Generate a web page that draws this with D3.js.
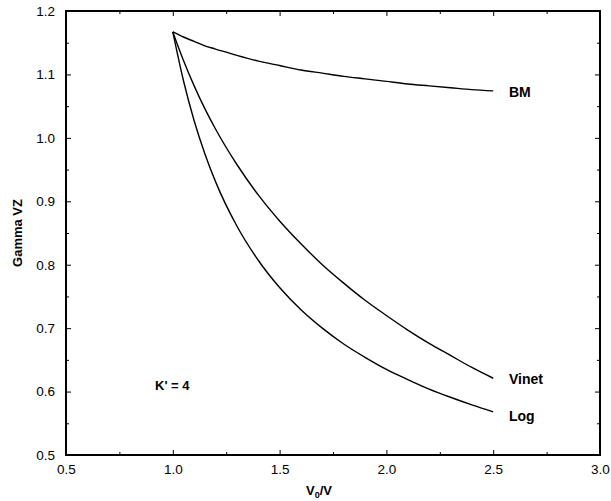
<!DOCTYPE html>
<html>
<head>
<meta charset="utf-8">
<script src="https://cdn.jsdelivr.net/npm/d3@7"></script>
<style>
  body { margin: 0; background: #fff; }
  svg text { font-family: "Liberation Sans", Arial, sans-serif; fill: #000; }
</style>
</head>
<body>
<div id="chart"></div>
<script>
// Values
const compression = [1.0, 1.05, 1.1, 1.15, 1.2, 1.3, 1.4, 1.5, 1.6, 1.7, 1.8, 1.9, 2.0, 2.1, 2.2, 2.3, 2.4, 2.5];
const gammaBM    = [1.167, 1.159, 1.152, 1.145, 1.140, 1.130, 1.121, 1.114, 1.107, 1.102, 1.097, 1.093, 1.089, 1.085, 1.082, 1.079, 1.076, 1.074];
const gammaVinet = [1.167, 1.122, 1.082, 1.046, 1.014, 0.958, 0.910, 0.869, 0.833, 0.800, 0.771, 0.744, 0.720, 0.697, 0.676, 0.657, 0.638, 0.621];
const gammaLog   = [1.167, 1.090, 1.027, 0.975, 0.931, 0.861, 0.807, 0.764, 0.729, 0.700, 0.675, 0.654, 0.635, 0.619, 0.604, 0.591, 0.579, 0.568];
const seriesNames = ["BM", "Vinet", "Log"];
const xTicks = [0.5, 1.0, 1.5, 2.0, 2.5, 3.0];
const yTicks = [0.5, 0.6, 0.7, 0.8, 0.9, 1.0, 1.1, 1.2];

const svgWidth = 611;
const svgHeight = 501;
const margin = { top: 11, right: 11, bottom: 46, left: 66 };
const width = svgWidth - margin.left - margin.right;
const height = svgHeight - margin.top - margin.bottom;

const svg = d3.select("#chart")
  .append("svg")
  .attr("width", svgWidth)
  .attr("height", svgHeight);

const g = svg.append("g")
  .attr("transform", `translate(${margin.left}, ${margin.top})`);

const x = d3.scaleLinear().domain([0.5, 3.0]).range([0, width]);
const y = d3.scaleLinear().domain([0.5, 1.2]).range([height, 0]);

// minor ticks halfway between major ones
const xMinor = d3.range(0.75, 3.0, 0.5);
const yMinor = d3.range(0.55, 1.2, 0.1);

// inward ticks on all four sides
function tickAxis(axisFn, scale, majors, minors, transform, labels) {
  const major = g.append("g").attr("transform", transform)
    .call(axisFn(scale).tickValues(majors).tickSize(-5)
      .tickFormat(labels ? d3.format(".1f") : ""));
  const minor = g.append("g").attr("transform", transform)
    .call(axisFn(scale).tickValues(minors).tickSize(-3).tickFormat(""));
  [major, minor].forEach(a => {
    a.select(".domain").remove();
    a.selectAll("line").attr("stroke", "#000").attr("stroke-width", 1);
  });
  major.selectAll("text").attr("font-size", 13.5);
  return major;
}

const bottom = tickAxis(d3.axisBottom, x, xTicks, xMinor, `translate(0, ${height})`, true);
bottom.selectAll("text").attr("dy", "0").attr("y", 19);
tickAxis(d3.axisTop, x, xTicks, xMinor, "translate(0, 0)", false);
const left = tickAxis(d3.axisLeft, y, yTicks, yMinor, "translate(0, 0)", true);
left.selectAll("text").attr("x", -11);
tickAxis(d3.axisRight, y, yTicks, yMinor, `translate(${width}, 0)`, false);

// frame
g.append("rect")
  .attr("width", width)
  .attr("height", height)
  .attr("fill", "none")
  .attr("stroke", "#000")
  .attr("stroke-width", 2);

// curves
const line = d3.line()
  .x((d, i) => x(compression[i]))
  .y(d => y(d))
  .curve(d3.curveMonotoneX);

[gammaBM, gammaVinet, gammaLog].forEach(vals => {
  g.append("path")
    .datum(vals)
    .attr("d", line)
    .attr("fill", "none")
    .attr("stroke", "#000")
    .attr("stroke-width", 1.4);
});

// curve labels
const labelBase = [96.7, 384, 421];
seriesNames.forEach((name, i) => {
  svg.append("text")
    .attr("x", 509)
    .attr("y", labelBase[i])
    .attr("font-size", 14)
    .attr("font-weight", "bold")
    .text(name);
});

svg.append("text")
  .attr("x", 155)
  .attr("y", 390)
  .attr("font-size", 13)
  .attr("font-weight", "bold")
  .text("K' = 4");

// axis titles
const xTitle = svg.append("text")
  .attr("x", 319)
  .attr("y", 495)
  .attr("text-anchor", "middle")
  .attr("font-size", 13)
  .attr("font-weight", "bold");
xTitle.append("tspan").text("V");
xTitle.append("tspan").attr("font-size", 9).attr("dy", 3).text("0");
xTitle.append("tspan").attr("dy", -3).text("/V");

svg.append("text")
  .attr("transform", `translate(22, ${margin.top + height / 2}) rotate(-90)`)
  .attr("text-anchor", "middle")
  .attr("font-size", 13)
  .attr("font-weight", "bold")
  .text("Gamma VZ");
</script>
</body>
</html>
